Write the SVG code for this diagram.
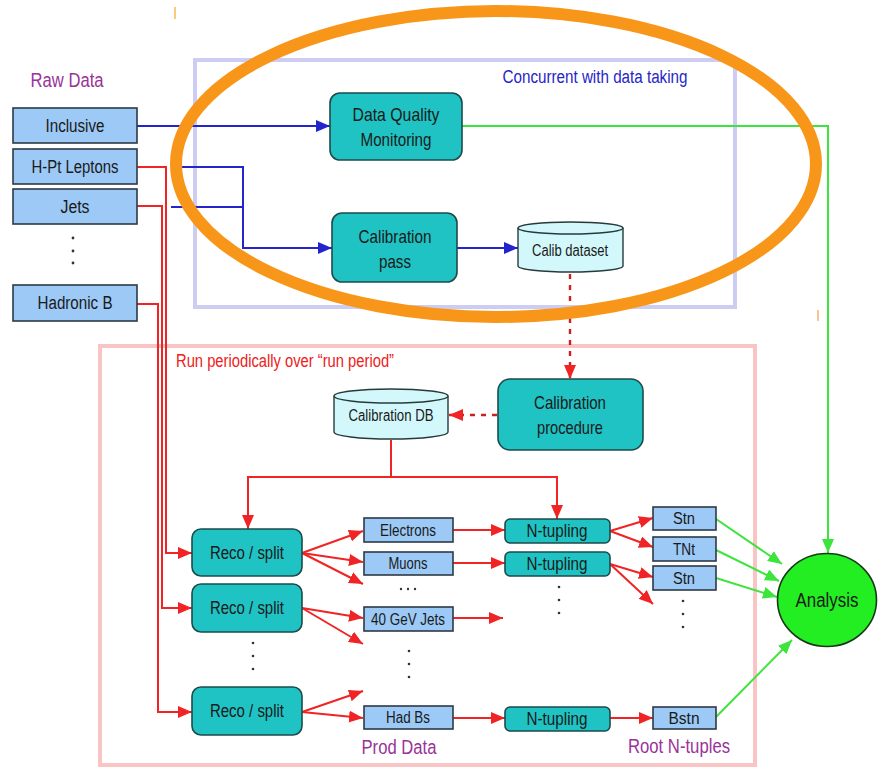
<svg xmlns="http://www.w3.org/2000/svg" width="878" height="768" viewBox="0 0 878 768">
<style>
text{font-family:"Liberation Sans",Arial,sans-serif;text-anchor:middle;fill:#1a1a1a}
.raw{fill:#9cc9f5;stroke:#2e3a45;stroke-width:1.6}
.teal{fill:#1fc3c3;stroke:#1d4b4b;stroke-width:1.6}
.cyl{fill:#d2f8fb;stroke:#263a3a;stroke-width:1.4}
.b{fill:none;stroke:#2424cc;stroke-width:2}
.r{fill:none;stroke:#f02424;stroke-width:2}
.rd{fill:none;stroke:#cc2020;stroke-width:2.4;stroke-dasharray:5 6}
.g{fill:none;stroke:#3ce43c;stroke-width:2}
.dot{fill:#333}
.lbl{fill:#993399}
</style>
<defs>
<marker id="ab" markerUnits="userSpaceOnUse" markerWidth="14" markerHeight="12" refX="14" refY="6" orient="auto"><path d="M0,0 L14,6 L0,12 z" fill="#2424cc"/></marker>
<marker id="ar" markerUnits="userSpaceOnUse" markerWidth="14" markerHeight="12" refX="14" refY="6" orient="auto"><path d="M0,0 L14,6 L0,12 z" fill="#f02424"/></marker>
<marker id="ag" markerUnits="userSpaceOnUse" markerWidth="14" markerHeight="12" refX="14" refY="6" orient="auto"><path d="M0,0 L14,6 L0,12 z" fill="#3ce43c"/></marker>
</defs>
<rect width="878" height="768" fill="#fff"/>
<!-- region frames -->
<g id="concurrent-frame">
<rect x="195" y="60" width="540" height="247" fill="none" stroke="#cdcdf4" stroke-width="4"/>
<text x="595" y="83" style="font-size:18px;fill:#2626c8" textLength="185" lengthAdjust="spacingAndGlyphs">Concurrent with data taking</text>
</g>
<g id="periodic-frame">
<rect x="100" y="346" width="655" height="419" fill="none" stroke="#f8c4c4" stroke-width="4"/>
<text x="285" y="367" style="font-size:17.5px;fill:#ee2020" textLength="218" lengthAdjust="spacingAndGlyphs">Run periodically over “run period”</text>
</g>
<text class="lbl" x="67" y="87" style="font-size:20px" textLength="73" lengthAdjust="spacingAndGlyphs">Raw Data</text>
<text class="lbl" x="399" y="754" style="font-size:20px" textLength="75" lengthAdjust="spacingAndGlyphs">Prod Data</text>
<text class="lbl" x="679" y="753" style="font-size:20px" textLength="102" lengthAdjust="spacingAndGlyphs">Root N-tuples</text>

<!-- connectors -->
<g id="connectors">
<path class="b" d="M137,126 H330" marker-end="url(#ab)"/>
<path class="b" d="M178,167 H243 V248 H332" marker-end="url(#ab)"/>
<path class="b" d="M171,207 H243"/>
<path class="b" d="M457,248 H518" marker-end="url(#ab)"/>
<path class="g" d="M462,126 H828 V553" marker-end="url(#ag)"/>
<path class="rd" d="M570,274 V379" marker-end="url(#ar)"/>
<path class="rd" d="M497,415 H449" marker-end="url(#ar)"/>
<path class="r" d="M137,167 H166 V553 H192" marker-end="url(#ar)"/>
<path class="r" d="M137,206 H162 V608 H192" marker-end="url(#ar)"/>
<path class="r" d="M137,304 H158 V712 H192" marker-end="url(#ar)"/>
<path class="r" d="M391,440 V477 H248 V529" marker-end="url(#ar)"/>
<path class="r" d="M391,477 H557 V519" marker-end="url(#ar)"/>
<path class="r" d="M302,553 L363,531" marker-end="url(#ar)"/>
<path class="r" d="M302,553 L363,562" marker-end="url(#ar)"/>
<path class="r" d="M302,553 L363,584" marker-end="url(#ar)"/>
<path class="r" d="M302,608 L363,618" marker-end="url(#ar)"/>
<path class="r" d="M302,608 L363,644" marker-end="url(#ar)"/>
<path class="r" d="M302,712 L363,691" marker-end="url(#ar)"/>
<path class="r" d="M302,712 L363,718" marker-end="url(#ar)"/>
<path class="r" d="M453,530 H505" marker-end="url(#ar)"/>
<path class="r" d="M453,563 H505" marker-end="url(#ar)"/>
<path class="r" d="M453,618 H503" marker-end="url(#ar)"/>
<path class="r" d="M453,718 H505" marker-end="url(#ar)"/>
<path class="r" d="M610,531 L653,518" marker-end="url(#ar)"/>
<path class="r" d="M610,531 L653,547" marker-end="url(#ar)"/>
<path class="r" d="M610,564 L653,577" marker-end="url(#ar)"/>
<path class="r" d="M610,564 L653,604" marker-end="url(#ar)"/>
<path class="r" d="M610,718 H653" marker-end="url(#ar)"/>
<path class="g" d="M716,519 L782,564" marker-end="url(#ag)"/>
<path class="g" d="M716,550 L779,581" marker-end="url(#ag)"/>
<path class="g" d="M716,578 L777,597" marker-end="url(#ag)"/>
<path class="g" d="M716,717 L792,640" marker-end="url(#ag)"/>
</g>

<!-- raw data nodes -->
<g id="inclusive"><rect class="raw" x="13" y="108" width="124" height="35"/><text x="75" y="132" style="font-size:18px" textLength="59" lengthAdjust="spacingAndGlyphs">Inclusive</text></g>
<g id="hpt-leptons"><rect class="raw" x="13" y="149" width="124" height="35"/><text x="75" y="173" style="font-size:18px" textLength="87" lengthAdjust="spacingAndGlyphs">H-Pt Leptons</text></g>
<g id="jets"><rect class="raw" x="13" y="189" width="124" height="35"/><text x="75" y="213" style="font-size:18px" textLength="29" lengthAdjust="spacingAndGlyphs">Jets</text></g>
<g id="raw-dots"><circle class="dot" cx="73" cy="238" r="1.4"/><circle class="dot" cx="73" cy="251" r="1.4"/><circle class="dot" cx="73" cy="263" r="1.4"/></g>
<g id="hadronic-b"><rect class="raw" x="13" y="285" width="124" height="36"/><text x="75" y="309" style="font-size:18px" textLength="75" lengthAdjust="spacingAndGlyphs">Hadronic B</text></g>

<!-- concurrent nodes -->
<g id="dqm"><rect class="teal" x="330" y="93" width="132" height="67" rx="10"/><text x="396" y="121" style="font-size:18.5px" textLength="87" lengthAdjust="spacingAndGlyphs">Data Quality</text><text x="396" y="146" style="font-size:18.5px" textLength="71" lengthAdjust="spacingAndGlyphs">Monitoring</text></g>
<g id="calib-pass"><rect class="teal" x="332" y="213" width="125" height="69" rx="10"/><text x="395" y="243" style="font-size:18.5px" textLength="73" lengthAdjust="spacingAndGlyphs">Calibration</text><text x="395" y="268" style="font-size:18.5px" textLength="32" lengthAdjust="spacingAndGlyphs">pass</text></g>
<g id="calib-dataset"><path class="cyl" d="M518,228 A52.5,6 0 0,1 623,228 V266 A52.5,6 0 0,1 518,266 Z"/><path class="cyl" d="M518,228 A52.5,6 0 0,0 623,228" fill="none"/><text x="570" y="256" style="font-size:16px" textLength="76" lengthAdjust="spacingAndGlyphs">Calib dataset</text></g>

<!-- periodic nodes -->
<g id="calib-procedure"><rect class="teal" x="498" y="379" width="145" height="71" rx="12"/><text x="570" y="409" style="font-size:18.5px" textLength="72" lengthAdjust="spacingAndGlyphs">Calibration</text><text x="570" y="434" style="font-size:18.5px" textLength="66" lengthAdjust="spacingAndGlyphs">procedure</text></g>
<g id="calib-db"><path class="cyl" d="M334,396 A57,7 0 0,1 448,396 V432 A57,7 0 0,1 334,432 Z"/><path class="cyl" d="M334,396 A57,7 0 0,0 448,396" fill="none"/><text x="391" y="421" style="font-size:16px" textLength="85" lengthAdjust="spacingAndGlyphs">Calibration DB</text></g>

<g id="reco1"><rect class="teal" x="192" y="529" width="110" height="47" rx="9"/><text x="247" y="559" style="font-size:18px" textLength="74" lengthAdjust="spacingAndGlyphs">Reco / split</text></g>
<g id="reco2"><rect class="teal" x="192" y="584" width="110" height="48" rx="9"/><text x="247" y="614" style="font-size:18px" textLength="74" lengthAdjust="spacingAndGlyphs">Reco / split</text></g>
<g id="reco-dots"><circle class="dot" cx="253" cy="643" r="1.3"/><circle class="dot" cx="253" cy="656" r="1.3"/><circle class="dot" cx="253" cy="669" r="1.3"/></g>
<g id="reco3"><rect class="teal" x="192" y="687" width="110" height="48" rx="9"/><text x="247" y="717" style="font-size:18px" textLength="74" lengthAdjust="spacingAndGlyphs">Reco / split</text></g>

<g id="electrons"><rect class="raw" x="364" y="518" width="89" height="24"/><text x="408" y="536" style="font-size:16px" textLength="56" lengthAdjust="spacingAndGlyphs">Electrons</text></g>
<g id="muons"><rect class="raw" x="364" y="552" width="89" height="23"/><text x="408" y="569" style="font-size:16px" textLength="39" lengthAdjust="spacingAndGlyphs">Muons</text></g>
<g id="prod-dots1"><circle class="dot" cx="401" cy="589" r="1.2"/><circle class="dot" cx="408" cy="589" r="1.2"/><circle class="dot" cx="415" cy="589" r="1.2"/></g>
<g id="jets40"><rect class="raw" x="364" y="607" width="89" height="24"/><text x="408" y="625" style="font-size:16px" textLength="74" lengthAdjust="spacingAndGlyphs">40 GeV Jets</text></g>
<g id="prod-dots2"><circle class="dot" cx="409" cy="651" r="1.3"/><circle class="dot" cx="409" cy="664" r="1.3"/><circle class="dot" cx="409" cy="677" r="1.3"/></g>
<g id="had-bs"><rect class="raw" x="364" y="706" width="89" height="23"/><text x="408" y="723" style="font-size:16px" textLength="44" lengthAdjust="spacingAndGlyphs">Had Bs</text></g>

<g id="ntupling1"><rect class="teal" x="505" y="519" width="105" height="24" rx="5"/><text x="557" y="537" style="font-size:18.5px" textLength="61" lengthAdjust="spacingAndGlyphs">N-tupling</text></g>
<g id="ntupling2"><rect class="teal" x="505" y="552" width="105" height="24" rx="5"/><text x="557" y="570" style="font-size:18.5px" textLength="61" lengthAdjust="spacingAndGlyphs">N-tupling</text></g>
<g id="ntupling-dots"><circle class="dot" cx="559" cy="587" r="1.3"/><circle class="dot" cx="559" cy="600" r="1.3"/><circle class="dot" cx="559" cy="613" r="1.3"/></g>
<g id="ntupling3"><rect class="teal" x="505" y="707" width="105" height="24" rx="5"/><text x="557" y="725" style="font-size:18.5px" textLength="61" lengthAdjust="spacingAndGlyphs">N-tupling</text></g>

<g id="stn1"><rect class="raw" x="653" y="507" width="63" height="23"/><text x="684" y="524" style="font-size:16px" textLength="22" lengthAdjust="spacingAndGlyphs">Stn</text></g>
<g id="tnt"><rect class="raw" x="653" y="537" width="63" height="24"/><text x="684" y="555" style="font-size:16px" textLength="22" lengthAdjust="spacingAndGlyphs">TNt</text></g>
<g id="stn2"><rect class="raw" x="653" y="566" width="63" height="24"/><text x="684" y="584" style="font-size:16px" textLength="22" lengthAdjust="spacingAndGlyphs">Stn</text></g>
<g id="stn-dots"><circle class="dot" cx="683" cy="601" r="1.3"/><circle class="dot" cx="683" cy="614" r="1.3"/><circle class="dot" cx="683" cy="627" r="1.3"/></g>
<g id="bstn"><rect class="raw" x="653" y="707" width="63" height="22"/><text x="684" y="724" style="font-size:16px" textLength="31" lengthAdjust="spacingAndGlyphs">Bstn</text></g>

<g id="analysis"><ellipse cx="827" cy="600" rx="49.5" ry="46.5" fill="#22ee22" stroke="#163a16" stroke-width="1.6"/><text x="827" y="607" style="font-size:20px" textLength="63" lengthAdjust="spacingAndGlyphs">Analysis</text></g>

<!-- highlight annotation -->
<g id="highlight">
<ellipse cx="496" cy="164" rx="320" ry="153" fill="none" stroke="#f8961a" stroke-width="12"/>
<line x1="175" y1="7" x2="175" y2="19" stroke="#ffc880" stroke-width="2"/>
<line x1="818" y1="310" x2="818" y2="321" stroke="#f8b070" stroke-width="1.5"/>
</g>
</svg>
